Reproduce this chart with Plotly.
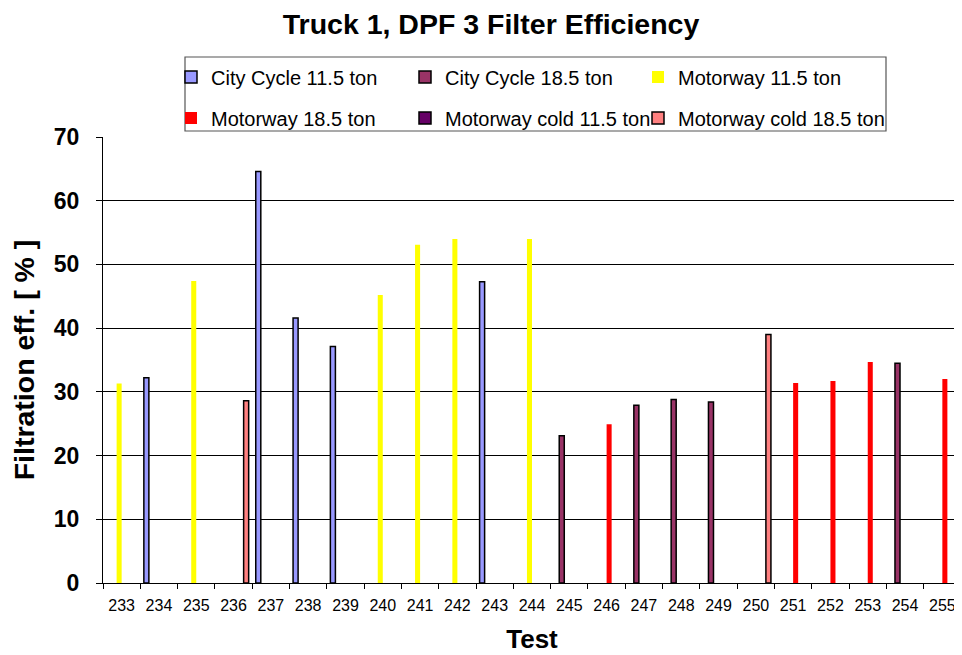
import plotly.graph_objects as go

tests = [str(t) for t in range(233, 256)]

# values per test (None = test not in this series)
city_11_5 = [None, 32.2, None, None, 64.6, 41.6, 37.1, None, None, None, 47.3, None,
             None, None, None, None, None, None, None, None, None, None, None]
city_18_5 = [None, None, None, None, None, None, None, None, None, None, None, None,
             23.1, None, 27.9, 28.8, 28.4, None, None, None, None, 34.5, None]
mw_11_5 = [31.3, None, 47.4, None, None, None, None, 45.2, 53.1, 54.0, None, 54.0,
           None, None, None, None, None, None, None, None, None, None, None]
mw_18_5 = [None, None, None, None, None, None, None, None, None, None, None, None,
           None, 24.9, None, None, None, None, 31.4, 31.7, 34.7, None, 32.0]
mwc_11_5 = [None] * 23
mwc_18_5 = [None, None, None, 28.6, None, None, None, None, None, None, None, None,
            None, None, None, None, None, 39.0, None, None, None, None, None]

series_names = ["City Cycle 11.5 ton", "City Cycle 18.5 ton", "Motorway 11.5 ton",
                "Motorway 18.5 ton", "Motorway cold 11.5 ton", "Motorway cold 18.5 ton"]
series_values = [city_11_5, city_18_5, mw_11_5, mw_18_5, mwc_11_5, mwc_18_5]
colors = ["#9999FF", "#993366", "#FFFF00", "#FF0000", "#660066", "#FF8080"]
outlined = [True, True, False, False, True, True]

# the page body adds an 8px offset; work in screen pixels and subtract it
OFF = 8
W, H = 962 - OFF, 655 - OFF
PLOT_L, PLOT_R, PLOT_T, PLOT_B = 103, 961, 137, 583   # screen px
L, R, T, B = PLOT_L - OFF, W - (PLOT_R - OFF), PLOT_T - OFF, H - (PLOT_B - OFF)
PW, PH = W - L - R, H - T - B

def px_x(p):
    return (p - PLOT_L) / PW

def px_y(p):
    return (PLOT_B - p) / PH

# legend positions (left px, centre y px), screen coordinates
leg_pos = [(171, 77), (405, 77), (638, 77), (171, 118), (405, 118), (638, 118)]

fig = go.Figure()
for i, (name, vals) in enumerate(zip(series_names, series_values)):
    lname = "legend" if i == 0 else f"legend{i+1}"
    fig.add_trace(go.Bar(
        x=tests, y=vals, name=name,
        marker=dict(color=colors[i],
                    line=dict(color="#000000" if outlined[i] else colors[i],
                              width=1.5 if outlined[i] else 0)),
        legend=lname,
    ))

layout_legends = {}
for i, (lx, ly) in enumerate(leg_pos):
    key = "legend" if i == 0 else f"legend{i+1}"
    layout_legends[key] = dict(
        x=px_x(lx), y=px_y(ly), xanchor="left", yanchor="middle",
        bgcolor="rgba(0,0,0,0)", borderwidth=0,
        font=dict(family="Liberation Sans, Arial, sans-serif", size=20, color="#000"),
        itemclick=False, itemdoubleclick=False,
    )

fig.update_layout(
    width=W, height=H,
    margin=dict(l=L, r=R, t=T, b=B),
    paper_bgcolor="white", plot_bgcolor="white",
    font=dict(family="Liberation Sans, Arial, sans-serif", color="#000"),
    title=dict(text="<b>Truck 1, DPF 3 Filter Efficiency</b>",
               x=(491 - OFF) / W, xanchor="center", y=1 - (24 - OFF) / H, yanchor="middle",
               font=dict(size=28.5, color="#000")),
    barmode="group", bargap=0.19, bargroupgap=0,
    showlegend=True,
    **layout_legends,
    shapes=[dict(type="rect", xref="paper", yref="paper",
                 x0=px_x(185), x1=px_x(886), y0=px_y(131), y1=px_y(57),
                 line=dict(color="#555555", width=1.2), fillcolor="rgba(0,0,0,0)",
                 layer="above")],
)

fig.update_xaxes(
    type="category", tickson="boundaries", ticks="outside", ticklen=5,
    tickcolor="#000", showline=True, linecolor="#000", linewidth=1,
    showgrid=False, tickfont=dict(size=16, color="#000"), ticklabelstandoff=8,
    title=dict(text="<b>Test</b>", font=dict(size=26, color="#000"), standoff=16),
)
fig.update_yaxes(
    range=[0, 70], dtick=10, ticks="outside", ticklen=6, tickcolor="#000",
    showline=True, linecolor="#000", linewidth=1,
    showgrid=True, gridcolor="#000", gridwidth=1, zeroline=False,
    tickfont=dict(size=23, color="#000"), tickprefix="<b>", ticksuffix="</b>",
    ticklabelstandoff=12,
    title=dict(text="<b>Filtration eff. [ % ]</b>", font=dict(size=28.5, color="#000"),
               standoff=20),
)

fig.write_html("out.html")
